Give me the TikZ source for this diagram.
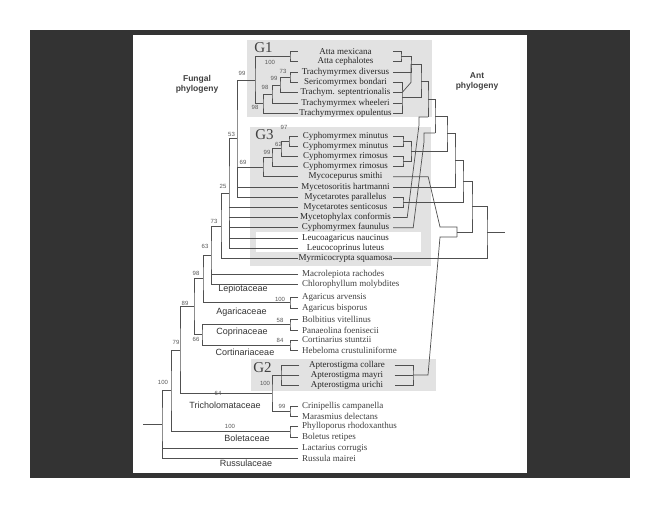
\documentclass[tikz,border=0pt]{standalone}
\usepackage{fontspec}
\setmainfont{Liberation Serif}
\setsansfont{Liberation Sans}
\definecolor{slide}{HTML}{333333}
\definecolor{gbox}{HTML}{E2E2E2}
\definecolor{ln}{HTML}{505050}
\begin{document}
\begin{tikzpicture}[x=1pt,y=-1pt,
    br/.style={draw=ln,line width=0.7pt},
    sp/.style={inner xsep=0pt,inner ysep=0.5pt,minimum width=95pt,font=\fontsize{9}{10}\selectfont,text=black!85},
    spl/.style={anchor=west,inner xsep=4pt,inner ysep=0.5pt,font=\fontsize{9}{10}\selectfont,text=black!75},
    fam/.style={font=\sffamily\fontsize{9}{10}\selectfont,text=black!80},
    bs/.style={font=\sffamily\fontsize{6}{7}\selectfont,text=black!65,inner sep=0pt},
    grp/.style={font=\fontsize{15}{15}\selectfont,text=black!75,inner sep=0pt},
    ttl/.style={font=\sffamily\bfseries\fontsize{8.5}{10}\selectfont,text=black!75,align=center}]
  \useasboundingbox (0,0) rectangle (660,510);
  \fill[white] (0,0) rectangle (660,510);
  \fill[slide] (30,30) rectangle (630,478);
  \fill[white] (133,35) rectangle (527,473);
  \fill[gbox] (247,40) rectangle (432,117);
  \fill[gbox] (250,127) rectangle (431,266);
  \fill[white] (256,232) rectangle (421,252);
  \fill[gbox] (251,359) rectangle (436,391);
  \node[grp] (G1) at (263.5,48) {G1};
  \node[grp] (G3) at (264.5,134.5) {G3};
  \node[grp] (G2) at (262.5,368) {G2};
  \node[ttl] (fun) at (197,84) {Fungal\\phylogeny};
  \node[ttl] (ant) at (477,81) {Ant\\phylogeny};
  \foreach \n/\t [count=\i from 0] in {mex/Atta mexicana,cep/Atta cephalotes,div/Trachymyrmex diversus,bon/Sericomyrmex bondari,sep/Trachym. septentrionalis,whe/Trachymyrmex wheeleri,opu/Trachymyrmex opulentus}
    \node[sp] (\n) at (345.5,{51.5+10.3*\i}) {\t};
  \foreach \n/\t [count=\i from 0] in {min1/Cyphomyrmex minutus,min2/Cyphomyrmex minutus,rim1/Cyphomyrmex rimosus,rim2/Cyphomyrmex rimosus,smi/Mycocepurus smithi,har/Mycetosoritis hartmanni,par/Mycetarotes parallelus,sen/Mycetarotes senticosus,con/Mycetophylax conformis,fau/Cyphomyrmex faunulus,nau/Leucoagaricus naucinus,lut/Leucocoprinus luteus,squ/Myrmicocrypta squamosa}
    \node[sp] (\n) at (345.5,{136+10.2*\i}) {\t};
  \foreach \n/\t [count=\i from 0] in {col/Apterostigma collare,may/Apterostigma mayri,uri/Apterostigma urichi}
    \node[sp] (\n) at (347,{365+10*\i}) {\t};
  \foreach \n/\t/\y in {rac/Macrolepiota rachodes/274,mol/Chlorophyllum molybdites/284,arv/Agaricus arvensis/297,bis/Agaricus bisporus/308,vit/Bolbitius vitellinus/319,foe/Panaeolina foenisecii/330,stu/Cortinarius stuntzii/340,cru/Hebeloma crustuliniforme/350,cam/Crinipellis campanella/406,del/Marasmius delectans/416,rho/Phylloporus rhodoxanthus/426,ret/Boletus retipes/437,cor/Lactarius corrugis/448,mai/Russula mairei/458}
    \node[spl] (\n) at (298,\y) {\t};
  \foreach \n/\t/\x/\y in {lep/Lepiotaceae/243/289,aga/Agaricaceae/241.5/312,cop/Coprinaceae/242/332,crt/Cortinariaceae/245/352,tri/Tricholomataceae/225/405,bol/Boletaceae/247/438,rus/Russulaceae/246/463}
    \node[fam] (\n) at (\x,\y) {\t};
  \foreach \v/\x/\y [count=\i] in {100/270/62,73/283/71.5,99/274/78.5,98/265/87.5,98/255/107.5,99/242/73.5,97/284/127.5,62/278.5/144.5,99/267/152,69/243/162.5,53/231.5/134.5,25/223/186,73/214/221.5,63/205/246.5,98/196/273,100/280/299,89/185/303,58/280/320,66/196/339,84/280/340,79/176/342,100/265/383,100/163/382,64/218/393,99/282/406,100/230/426}
    \node[bs] (b\i) at (\x,\y) {\v};
  % fungal tree
  \coordinate (nAt) at (290,56.65);
  \coordinate (nDS) at (290,77.25);
  \coordinate (nSe) at (280,85);
  \coordinate (nWh) at (272,94);
  \coordinate (nOp) at (263,103.65);
  \coordinate (nG1) at (255,80.15);
  \coordinate (nMi) at (289,141.1);
  \coordinate (nR1) at (281,148.75);
  \coordinate (nR2) at (272,157.7);
  \coordinate (nSm) at (263,167.25);
  \coordinate (nA99) at (237,138.65);
  \coordinate (nA53) at (229,193.4);
  \coordinate (nA25) at (221,225.9);
  \coordinate (nA73) at (211,254.95);
  \coordinate (nAg) at (290,302.5);
  \coordinate (nA63) at (203,278.7);
  \coordinate (nCo) at (290,324.5);
  \coordinate (nCt) at (290,345);
  \coordinate (nA66) at (202,334.75);
  \coordinate (nA98) at (194,306.7);
  \coordinate (nG2) at (281,375);
  \coordinate (nCr) at (290,411);
  \coordinate (nA64) at (272,393);
  \coordinate (nA89) at (180,349.85);
  \coordinate (nBo) at (290,431.5);
  \coordinate (nA79) at (171,390.7);
  \coordinate (nRoot) at (162,424.35);
  \coordinate (fRoot) at (143,424.35);
  \draw[br] (mex.west) -| (nAt) |- (cep.west);
  \draw[br] (div.west) -| (nDS) |- (bon.west);
  \draw[br] (nDS) -| (nSe) |- (sep.west);
  \draw[br] (nSe) -| (nWh) |- (whe.west);
  \draw[br] (nWh) -| (nOp) |- (opu.west);
  \draw[br] (nAt) -| (nG1) |- (nOp);
  \draw[br] (min1.west) -| (nMi) |- (min2.west);
  \draw[br] (nMi) -| (nR1) |- (rim1.west);
  \draw[br] (nR1) -| (nR2) |- (rim2.west);
  \draw[br] (nR2) -| (nSm) |- (smi.west);
  \draw[br] (nG1) -| (nA99) |- (par.west);
  \draw[br] (nSm) -- (nSm -| nA99) (har.west) -- (har.west -| nA99);
  \draw[br] (nA99) -| (nA53) |- (lut.west);
  \foreach \c in {sen,con,fau,nau}
    \draw[br] (\c.west) -- (\c.west -| nA53);
  \draw[br] (nA53) -| (nA25) |- (squ.west);
  \draw[br] (nA25) -| (nA73) |- (mol.west);
  \draw[br] (rac.west) -- (rac.west -| nA73);
  \draw[br] (arv.west) -| (nAg) |- (bis.west);
  \draw[br] (nA73) -| (nA63) |- (nAg);
  \draw[br] (vit.west) -| (nCo) |- (foe.west);
  \draw[br] (stu.west) -| (nCt) |- (cru.west);
  \draw[br] (nCo) -| (nA66) |- (nCt);
  \draw[br] (nA63) -| (nA98) |- (nA66);
  \draw[br] (col.west) -| (nG2) |- (uri.west);
  \draw[br] (may.west) -- (nG2);
  \draw[br] (cam.west) -| (nCr) |- (del.west);
  \draw[br] (nG2) -| (nA64) |- (nCr);
  \draw[br] (nA98) -| (nA89) |- (nA64);
  \draw[br] (rho.west) -| (nBo) |- (ret.west);
  \draw[br] (nA89) -| (nA79) |- (nBo);
  \draw[br] (nA79) -| (nRoot) |- (mai.west);
  \draw[br] (cor.west) -- (cor.west -| nRoot);
  \draw[br] (fRoot) -- (nRoot);
  % ant tree
  \coordinate (aAtta) at (401,56.65);
  \coordinate (aDiv) at (411,64);
  \coordinate (sd) at (411,82.4);
  \coordinate (aTra) at (402,97.85);
  \coordinate (aG1) at (421,81);
  \coordinate (aCon) at (428,99);
  \coordinate (kCon) at (428,117);
  \coordinate (aFau) at (435,116);
  \coordinate (kFau) at (435,133);
  \coordinate (aMin) at (403,141.1);
  \coordinate (aRim) at (403,161.5);
  \coordinate (aCyp) at (411,151.3);
  \coordinate (aCy2) at (447,133.6);
  \coordinate (aHar) at (455,160.3);
  \coordinate (aPar) at (403,202.3);
  \coordinate (aMyc) at (463,181.3);
  \coordinate (aApt) at (413,375);
  \coordinate (kSmi) at (457,227);
  \coordinate (kApt) at (457,237);
  \coordinate (aSmi) at (457,232);
  \coordinate (aSub) at (472,206.6);
  \coordinate (aRoot) at (487,232.5);
  \coordinate (rRoot) at (505,232.5);
  \draw[br] (mex.east) -| (aAtta) |- (cep.east);
  \draw[br] (aAtta) -| (aDiv) |- (div.east);
  \draw[br] (aDiv) -- (sd) -- (sep.east -| aTra);
  \draw[br] (bon.east) -| (aTra) |- (opu.east);
  \draw[br] (sep.east) -- (sep.east -| aTra) (whe.east) -- (whe.east -| aTra);
  \draw[br] (aDiv) -| (aG1) |- (aTra);
  \draw[br] (aG1) -| (aCon) |- (kCon);
  \draw[br] (con.east) -- ++(14,0) -- (419,125) |- (kCon);
  \draw[br] (aCon) -| (aFau) |- (kFau);
  \draw[br] (fau.east) -- ++(20,0) -- (424,142) |- (kFau);
  \draw[br] (min1.east) -| (aMin) |- (min2.east);
  \draw[br] (rim1.east) -| (aRim) |- (rim2.east);
  \draw[br] (aMin) -| (aCyp) |- (aRim);
  \draw[br] (aFau) -| (aCy2) |- (aCyp);
  \draw[br] (aCy2) -| (aHar) |- (har.east);
  \draw[br] (par.east) -| (aPar) |- (sen.east);
  \draw[br] (aHar) -| (aMyc) |- (aPar);
  \draw[br] (col.east) -| (aApt) |- (uri.east);
  \draw[br] (may.east) -- (aApt);
  \draw[br] (aApt) -- ++(15,0) -- (440,237) -- (kApt);
  \draw[br] (smi.east) -- ++(35,0) -- (440,227) -- (kSmi) -- (kApt);
  \draw[br] (aMyc) -| (aSub) |- (aSmi);
  \draw[br] (aSub) -| (aRoot) |- (squ.east);
  \draw[br] (aRoot) -- (rRoot);
\end{tikzpicture}
\end{document}
